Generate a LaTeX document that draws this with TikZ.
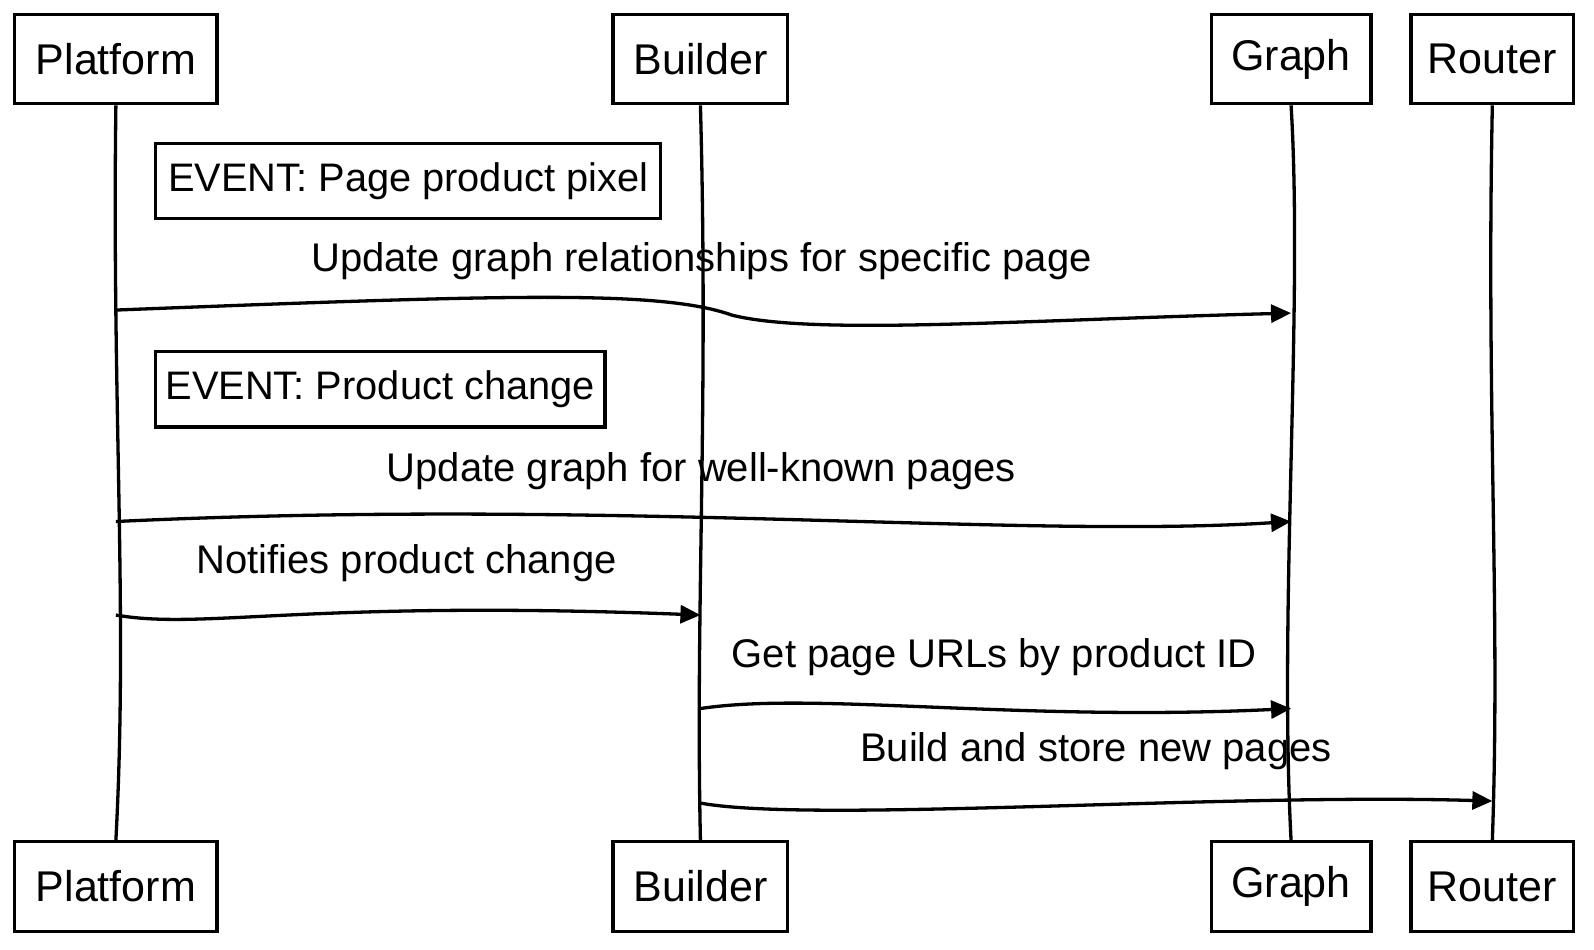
\documentclass[tikz,border=0pt]{standalone}
\usepackage{fontspec}
\setmainfont{Liberation Sans}
\usetikzlibrary{arrows.meta}
\tikzset{
  sketch/.style={line width=1.65pt, black},
  actor/.style={sketch, draw, fill=white, minimum height=44.7pt, inner sep=0pt, font=\fontsize{21.5}{24}\selectfont},
  notebox/.style={sketch, draw, fill=white, minimum height=37.6pt, inner sep=0pt, font=\fontsize{19.9}{23}\selectfont},
  lifeline/.style={sketch},
  msg/.style={sketch, -{Triangle[length=10pt,width=9pt]}},
  lbl/.style={font=\fontsize{20}{23}\selectfont, inner sep=0pt}
}
\begin{document}
\begin{tikzpicture}[x=0.5083pt,y=-0.5083pt]
\useasboundingbox (0,0) rectangle (1568,934.5);
% participants
\node[actor, minimum width=101.2pt] (pt) at (114,58) {Platform};
\node[actor, minimum width=87.4pt] (bt) at (689,58) {Builder};
\node[actor, minimum width=79.8pt] (gt) at (1270,58) {Graph};
\node[actor, minimum width=81.3pt] (rt) at (1468,58) {Router};
\node[actor, minimum width=101.2pt] (pb) at (114,872) {Platform};
\node[actor, minimum width=87.4pt] (bb) at (689,872) {Builder};
\node[actor, minimum width=79.8pt] (gb) at (1270,872) {Graph};
\node[actor, minimum width=81.3pt] (rb) at (1468,872) {Router};
% lifelines
\draw[lifeline] (pt.south) .. controls (110,400) and (126,600) .. (pb.north);
\draw[lifeline] (bt.south) .. controls (697,400) and (684,600) .. (bb.north);
\draw[lifeline] (gt.south) .. controls (1282,300) and (1258,600) .. (gb.north);
\draw[lifeline] (rt.south) .. controls (1462,400) and (1476,600) .. (rb.north);
% notes
\node[notebox, minimum width=252.6pt] (n1) at (401.5,178) {EVENT: Page product pixel};
\node[notebox, minimum width=224.7pt] (n2) at (374,383) {EVENT: Product change};
% message end points
\coordinate (m1s) at (114,305);
\coordinate (m1e) at (1270,308);
\coordinate (m2s) at (114,513);
\coordinate (m2e) at (1270,513);
\coordinate (m3s) at (114,605);
\coordinate (m3e) at (689,605);
\coordinate (m4s) at (689,697);
\coordinate (m4e) at (1270,697);
\coordinate (m5s) at (689,790);
\coordinate (m5e) at (1468,788);
% messages
\node[lbl] (l1) at (690,257) {Update graph relationships for specific page};
\draw[msg] (m1s) .. controls (500,290) and (650,285) .. (720,310) .. controls (800,330) and (1000,315) .. (m1e);
\node[lbl] (l2) at (690,463) {Update graph for well-known pages};
\draw[msg] (m2s) .. controls (600,490) and (1000,530) .. (m2e);
\node[lbl] (l3) at (400,554) {Notifies product change};
\draw[msg] (m3s) .. controls (200,620) and (300,590) .. (m3e);
\node[lbl] (l4) at (978,646) {Get page URLs by product ID};
\draw[msg] (m4s) .. controls (800,680) and (1000,710) .. (m4e);
\node[lbl] (l5) at (1078,739) {Build and store new pages};
\draw[msg] (m5s) .. controls (800,810) and (1200,780) .. (m5e);
\end{tikzpicture}
\end{document}
